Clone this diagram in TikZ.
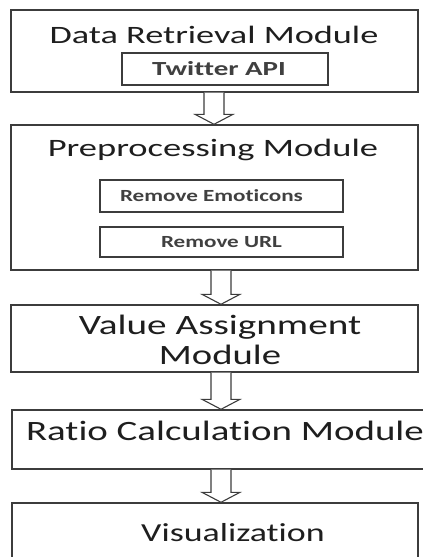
\documentclass[tikz,border=0pt]{standalone}
\usepackage{fontspec}
\setmainfont{Carlito}[Ligatures=NoCommon]
\usetikzlibrary{calc}

\definecolor{framegray}{HTML}{3C3C3C}
\definecolor{textgray}{HTML}{1E1E1E}

% text stretched sideways like the scanned figure
\newcommand{\widetext}[2]{\scalebox{#1}[1]{#2}}

% hollow block arrow: centre x, upper node, lower node
\newcommand{\blockarrow}[3]{%
  \draw[flowarrow] let \p1=(#2.south), \p2=(#3.north) in
    (#1-10,\y1) -- (#1-10,\y2+10pt) -- (#1-19,\y2+10pt) -- (#1,\y2)
    -- (#1+19,\y2+10pt) -- (#1+10,\y2+10pt) -- (#1+10,\y1);}

\begin{document}
\begin{tikzpicture}[x=1pt,y=-1pt,
    module/.style={draw=framegray, line width=1.4pt, inner sep=0pt, text=textgray},
    submodule/.style={draw=framegray, line width=1.2pt, inner sep=0pt, text=textgray!85!white,
      font=\fontsize{17}{19}\selectfont\bfseries},
    title/.style={inner sep=0pt, text=textgray, font=\fontsize{25}{28}\selectfont},
    flowarrow/.style={draw=framegray, line width=1.1pt, fill=white, line join=miter}]
  \useasboundingbox (0,0) rectangle (423,557);

  \node[module, minimum width=407pt, minimum height=82pt] (retrieval) at (214.5,51) {};
  \node[title] (retrievaltitle) at (214,35) {\widetext{1.45}{Data Retrieval Module}};
  \node[submodule, minimum width=206pt, minimum height=32pt,
    font=\fontsize{20}{22}\selectfont\bfseries] (twitter) at (225,69)
    {\hspace*{-12pt}\widetext{1.45}{Twitter API}};

  \node[module, minimum width=407pt, minimum height=145pt] (preproc) at (214.5,197.5) {};
  \node[title] (preproctitle) at (213,150) {\widetext{1.46}{Preprocessing Module}};
  \node[submodule, minimum width=243pt, minimum height=32pt] (emoticons) at (221.5,196)
    {\hspace*{-20pt}\widetext{1.36}{Remove Emoticons}};
  \node[submodule, minimum width=243pt, minimum height=30pt] (url) at (221.5,242)
    {\widetext{1.36}{Remove URL}};

  \node[module, minimum width=407pt, minimum height=67pt] (value) at (214.5,338.5) {};
  \node[title, font=\fontsize{28}{30}\selectfont, align=center] (valuetitle) at (220,340)
    {\widetext{1.4}{Value Assignment}\\\widetext{1.38}{Module}};

  \node[module, minimum width=423pt, minimum height=59pt] (ratio) at (223.5,439.5) {};
  \node[title, font=\fontsize{28}{32}\selectfont] (ratiotitle) at (225,431)
    {\widetext{1.39}{Ratio Calculation Module}};

  \node[module, minimum width=406pt, minimum height=77pt] (visual) at (215,541.5) {};
  \node[title, font=\fontsize{26}{30}\selectfont] (visualtitle) at (233,533)
    {\widetext{1.38}{Visualization}};

  \blockarrow{214}{retrieval}{preproc}
  \blockarrow{221}{preproc}{value}
  \blockarrow{221}{value}{ratio}
  \blockarrow{221}{ratio}{visual}
\end{tikzpicture}
\end{document}
